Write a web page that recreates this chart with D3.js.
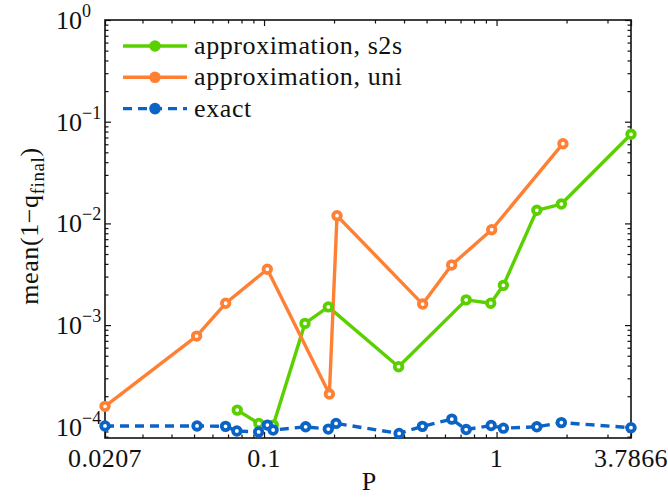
<!DOCTYPE html>
<html><head><meta charset="utf-8">
<script src="https://cdn.jsdelivr.net/npm/d3@7"></script>
<style>
body{margin:0;background:#fff;}
svg text{font-family:"Liberation Serif","Times New Roman",serif;fill:#111;}
</style></head>
<body><svg id="c" width="668" height="497"></svg>
<script>
// ---- data ----
const s2sP   = [0.0767, 0.095, 0.1096, 0.150, 0.189, 0.379, 0.740, 0.944, 1.07, 1.49, 1.90, 3.7866];
const s2sV   = [1.46e-4, 1.08e-4, 1.04e-4, 1.04e-3, 1.51e-3, 3.9e-4, 1.77e-3, 1.64e-3, 2.46e-3, 1.345e-2, 1.55e-2, 7.52e-2];
const uniP   = [0.0207, 0.0513, 0.0684, 0.1033, 0.191, 0.206, 0.481, 0.641, 0.953, 1.93];
const uniV   = [1.59e-4, 7.8e-4, 1.64e-3, 3.54e-3, 2.1e-4, 1.19e-2, 1.61e-3, 3.9e-3, 8.67e-3, 6.08e-2];
const exactP = [0.0207, 0.0515, 0.0683, 0.0764, 0.0948, 0.1034, 0.1094, 0.151, 0.189, 0.204, 0.381, 0.480, 0.642, 0.74, 0.948, 1.07, 1.49, 1.90, 3.7866];
const exactV = [1.02e-4, 1.02e-4, 1.01e-4, 9.1e-5, 8.9e-5, 1.04e-4, 9.3e-5, 1.0e-4, 9.5e-5, 1.08e-4, 8.6e-5, 1.01e-4, 1.19e-4, 9.4e-5, 1.03e-4, 9.7e-5, 1.0e-4, 1.1e-4, 9.8e-5];
const seriesNames = ["approximation, s2s", "approximation, uni", "exact"];
const xTickVals = [0.0207, 0.1, 1, 3.7866];
const xTickLabels = ["0.0207", "0.1", "1", "3.7866"];
const yTickExps = [0, -1, -2, -3, -4];
const xTitle = "P";

// ---- layout ----
const L = 105, R = 631, T = 20, B = 438;
const colors = ["#5bd000", "#ff8033", "#0b64c5"];
const svg = d3.select("#c");
const x = d3.scaleLog().domain([0.0207, 3.7866]).range([L, R]);
const y = d3.scaleLog().domain([Math.pow(10, -4.11), 1]).range([B, T]);

// minor ticks
const xMinor = [];
for (let k = -2; k <= 0; k++) for (let m = 2; m <= 9; m++) { const v = m * Math.pow(10, k); if (v > 0.0207 && v < 3.7866) xMinor.push(v); }
const yMinor = [];
for (let k = -5; k <= -1; k++) for (let m = 2; m <= 9; m++) { const v = m * Math.pow(10, k); if (v > y.domain()[0] && v < 1) yMinor.push(v); }
const yMajor = yTickExps.map(e => Math.pow(10, e));

function axisG(axis, tx, ty) {
  const g = svg.append("g").attr("transform", `translate(${tx},${ty})`).call(axis);
  g.select(".domain").remove();
  g.selectAll("line").attr("stroke", "#111").attr("stroke-width", 1.2);
  g.selectAll("text").remove();
  return g;
}
axisG(d3.axisBottom(x).tickValues(xTickVals).tickSize(-6), 0, B);
axisG(d3.axisBottom(x).tickValues(xMinor).tickSize(-3.5), 0, B);
axisG(d3.axisTop(x).tickValues(xTickVals).tickSize(-6), 0, T);
axisG(d3.axisTop(x).tickValues(xMinor).tickSize(-3.5), 0, T);
axisG(d3.axisLeft(y).tickValues(yMajor).tickSize(-6), L, 0);
axisG(d3.axisLeft(y).tickValues(yMinor).tickSize(-3.5), L, 0);
axisG(d3.axisRight(y).tickValues(yMajor).tickSize(-6), R, 0);
axisG(d3.axisRight(y).tickValues(yMinor).tickSize(-3.5), R, 0);

svg.append("rect").attr("x", L).attr("y", T).attr("width", R - L).attr("height", B - T)
  .attr("fill", "none").attr("stroke", "#111").attr("stroke-width", 1.6);

// x tick labels
svg.append("g").selectAll("text").data(xTickVals).join("text")
  .attr("x", d => x(d)).attr("y", 467).attr("text-anchor", "middle")
  .attr("font-size", 26).attr("letter-spacing", 0.4).text((d, i) => xTickLabels[i]);
// y tick labels
const yl = svg.append("g").selectAll("g").data(yTickExps).join("g")
  .attr("transform", e => `translate(0,${y(Math.pow(10, e))})`);
yl.append("text").attr("x", 82).attr("y", 9).attr("text-anchor", "end").attr("font-size", 26).text("10");
yl.append("text").attr("x", 82).attr("y", -3).attr("text-anchor", "start").attr("font-size", 18)
  .text(e => e === 0 ? "0" : "\u2212" + Math.abs(e));

// axis titles
svg.append("text").attr("x", 369).attr("y", 490).attr("text-anchor", "middle").attr("font-size", 26).text(xTitle);
const yt = svg.append("text").attr("transform", "translate(38,226) rotate(-90)")
  .attr("text-anchor", "middle").attr("font-size", 26).attr("letter-spacing", 0.6);
yt.append("tspan").text("mean(1\u2212q");
yt.append("tspan").attr("font-size", 19).attr("dy", 6).text("final");
yt.append("tspan").attr("dy", -6).text(")");

// series
const line = d3.line().x(d => x(d[0])).y(d => y(d[1]));
const series = [
  { pts: d3.zip(s2sP, s2sV), dash: null },
  { pts: d3.zip(uniP, uniV), dash: null },
  { pts: d3.zip(exactP, exactV), dash: "9,6" }
];
const plot = svg.append("g");
series.forEach((s, i) => {
  plot.append("path").datum(s.pts).attr("d", line).attr("fill", "none")
    .attr("stroke", colors[i]).attr("stroke-width", 3.4).attr("stroke-linejoin", "round")
    .attr("stroke-dasharray", s.dash);
});
series.forEach((s, i) => {
  plot.append("g").selectAll("circle").data(s.pts).join("circle")
    .attr("cx", d => x(d[0])).attr("cy", d => y(d[1])).attr("r", 3.8)
    .attr("fill", "#fff").attr("stroke", colors[i]).attr("stroke-width", 3.8);
});

// legend
const lg = svg.append("g");
seriesNames.forEach((n, i) => {
  const yy = 46 + i * 31.3;
  lg.append("line").attr("x1", 123).attr("x2", 187).attr("y1", yy).attr("y2", yy)
    .attr("stroke", colors[i]).attr("stroke-width", 3.4).attr("stroke-dasharray", series[i].dash);
  lg.append("circle").attr("cx", 155).attr("cy", yy).attr("r", 5.8).attr("fill", colors[i]);
  lg.append("text").attr("x", 194).attr("y", yy + 8).attr("font-size", 26).attr("letter-spacing", 0.6).text(n);
});
</script></body></html>
